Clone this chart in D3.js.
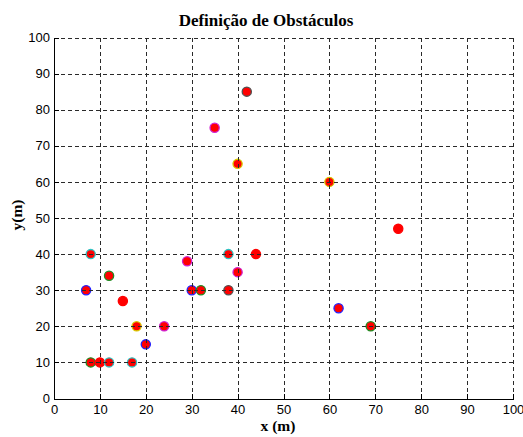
<!DOCTYPE html>
<html>
<head>
<meta charset="utf-8">
<script src="https://cdn.jsdelivr.net/npm/d3@7"></script>
<style>
  html, body { margin: 0; padding: 0; background: #fff; }
  svg { display: block; }
</style>
</head>
<body>
<script>
// Obstacle positions (metres) and the MATLAB colour letter of each marker edge
const obstacleX = [8, 12, 7, 15, 18, 24, 20, 8, 10, 12, 17, 29, 30, 32, 42, 35, 40, 38, 44, 40, 38, 60, 75, 62, 69];
const obstacleY = [40, 34, 30, 27, 20, 20, 15, 10, 10, 10, 10, 38, 30, 30, 85, 75, 65, 40, 40, 35, 30, 60, 47, 25, 20];
const edgeCodes = ["c", "g", "b", "r", "y", "m", "b", "g", "r", "c", "c", "m", "b", "g", "k", "m", "y", "c", "r", "m", "k", "y", "r", "b", "g"];
const xTicks = [0, 10, 20, 30, 40, 50, 60, 70, 80, 90, 100];
const yTicks = [0, 10, 20, 30, 40, 50, 60, 70, 80, 90, 100];
const titleText = "Definição de Obstáculos";
const xLabel = "x (m)";
const yLabel = "y(m)";

const W = 523, H = 437;
const plotLeft = 54, plotRight = 513, plotTop = 37.5, plotBottom = 398.5;

const edgeColour = {
  c: "#2fc4c4", g: "#1f8a1f", b: "#2020ff", y: "#d8c800",
  m: "#d020d0", k: "#505050", r: "#ff0000"
};

const svg = d3.select("body").append("svg")
  .attr("width", W).attr("height", H);
svg.append("rect").attr("width", W).attr("height", H).attr("fill", "#fff");

const x = d3.scaleLinear().domain([0, 100]).range([plotLeft, plotRight]);
const y = d3.scaleLinear().domain([0, 100]).range([plotBottom, plotTop]);

const points = obstacleX.map((v, i) => ({ x: v, y: obstacleY[i], e: edgeCodes[i] }));

// markers
svg.append("g").selectAll("circle").data(points).join("circle")
  .attr("cx", d => x(d.x))
  .attr("cy", d => y(d.y))
  .attr("r", 4.6)
  .attr("fill", "#ff0000")
  .attr("stroke", d => edgeColour[d.e])
  .attr("stroke-width", 1.3);

// dashed grid drawn over the markers
const grid = svg.append("g").attr("stroke", "#2a2a2a").attr("stroke-width", 1)
  .attr("stroke-dasharray", "4,3").attr("shape-rendering", "crispEdges");
grid.selectAll("line.v").data(xTicks.filter(t => t > 0)).join("line")
  .attr("class", "v")
  .attr("x1", d => Math.round(x(d)) + 0.5).attr("x2", d => Math.round(x(d)) + 0.5)
  .attr("y1", plotBottom).attr("y2", plotTop);
grid.selectAll("line.h").data(yTicks.filter(t => t > 0)).join("line")
  .attr("class", "h")
  .attr("y1", d => Math.round(y(d)) + 0.5).attr("y2", d => Math.round(y(d)) + 0.5)
  .attr("x1", plotLeft).attr("x2", plotRight);

// axes with inward ticks
const xAxis = d3.axisBottom(x).tickValues(xTicks).tickSizeInner(-5).tickSizeOuter(0).tickPadding(9)
  .tickFormat(d3.format("d"));
const yAxis = d3.axisLeft(y).tickValues(yTicks).tickSizeInner(-5).tickSizeOuter(0).tickPadding(9)
  .tickFormat(d3.format("d"));

const gx = svg.append("g").attr("transform", `translate(0,${plotBottom})`).call(xAxis);
const gy = svg.append("g").attr("transform", `translate(${plotLeft},0)`).call(yAxis);
[gx, gy].forEach(g => {
  g.selectAll("path, line").attr("stroke", "#000").attr("shape-rendering", "crispEdges");
  g.selectAll("text").attr("fill", "#000")
    .style("font-family", "'Liberation Sans', Arial, sans-serif").style("font-size", "13px");
});
gy.selectAll("text").attr("x", -4);
gx.selectAll("text").attr("y", 6).attr("dy", "0.71em");

// title and axis labels
svg.append("text").attr("x", 266).attr("y", 26).attr("text-anchor", "middle")
  .style("font-family", "'Liberation Serif', 'DejaVu Serif', serif")
  .style("font-weight", "bold").style("font-size", "17px")
  .text(titleText);
svg.append("text").attr("x", 278).attr("y", 431).attr("text-anchor", "middle")
  .style("font-family", "'Liberation Serif', 'DejaVu Serif', serif")
  .style("font-weight", "bold").style("font-size", "15.5px")
  .text(xLabel);
svg.append("text").attr("transform", "translate(22,215) rotate(-90)").attr("text-anchor", "middle")
  .style("font-family", "'Liberation Serif', 'DejaVu Serif', serif")
  .style("font-weight", "bold").style("font-size", "15.5px")
  .text(yLabel);
</script>
</body>
</html>
